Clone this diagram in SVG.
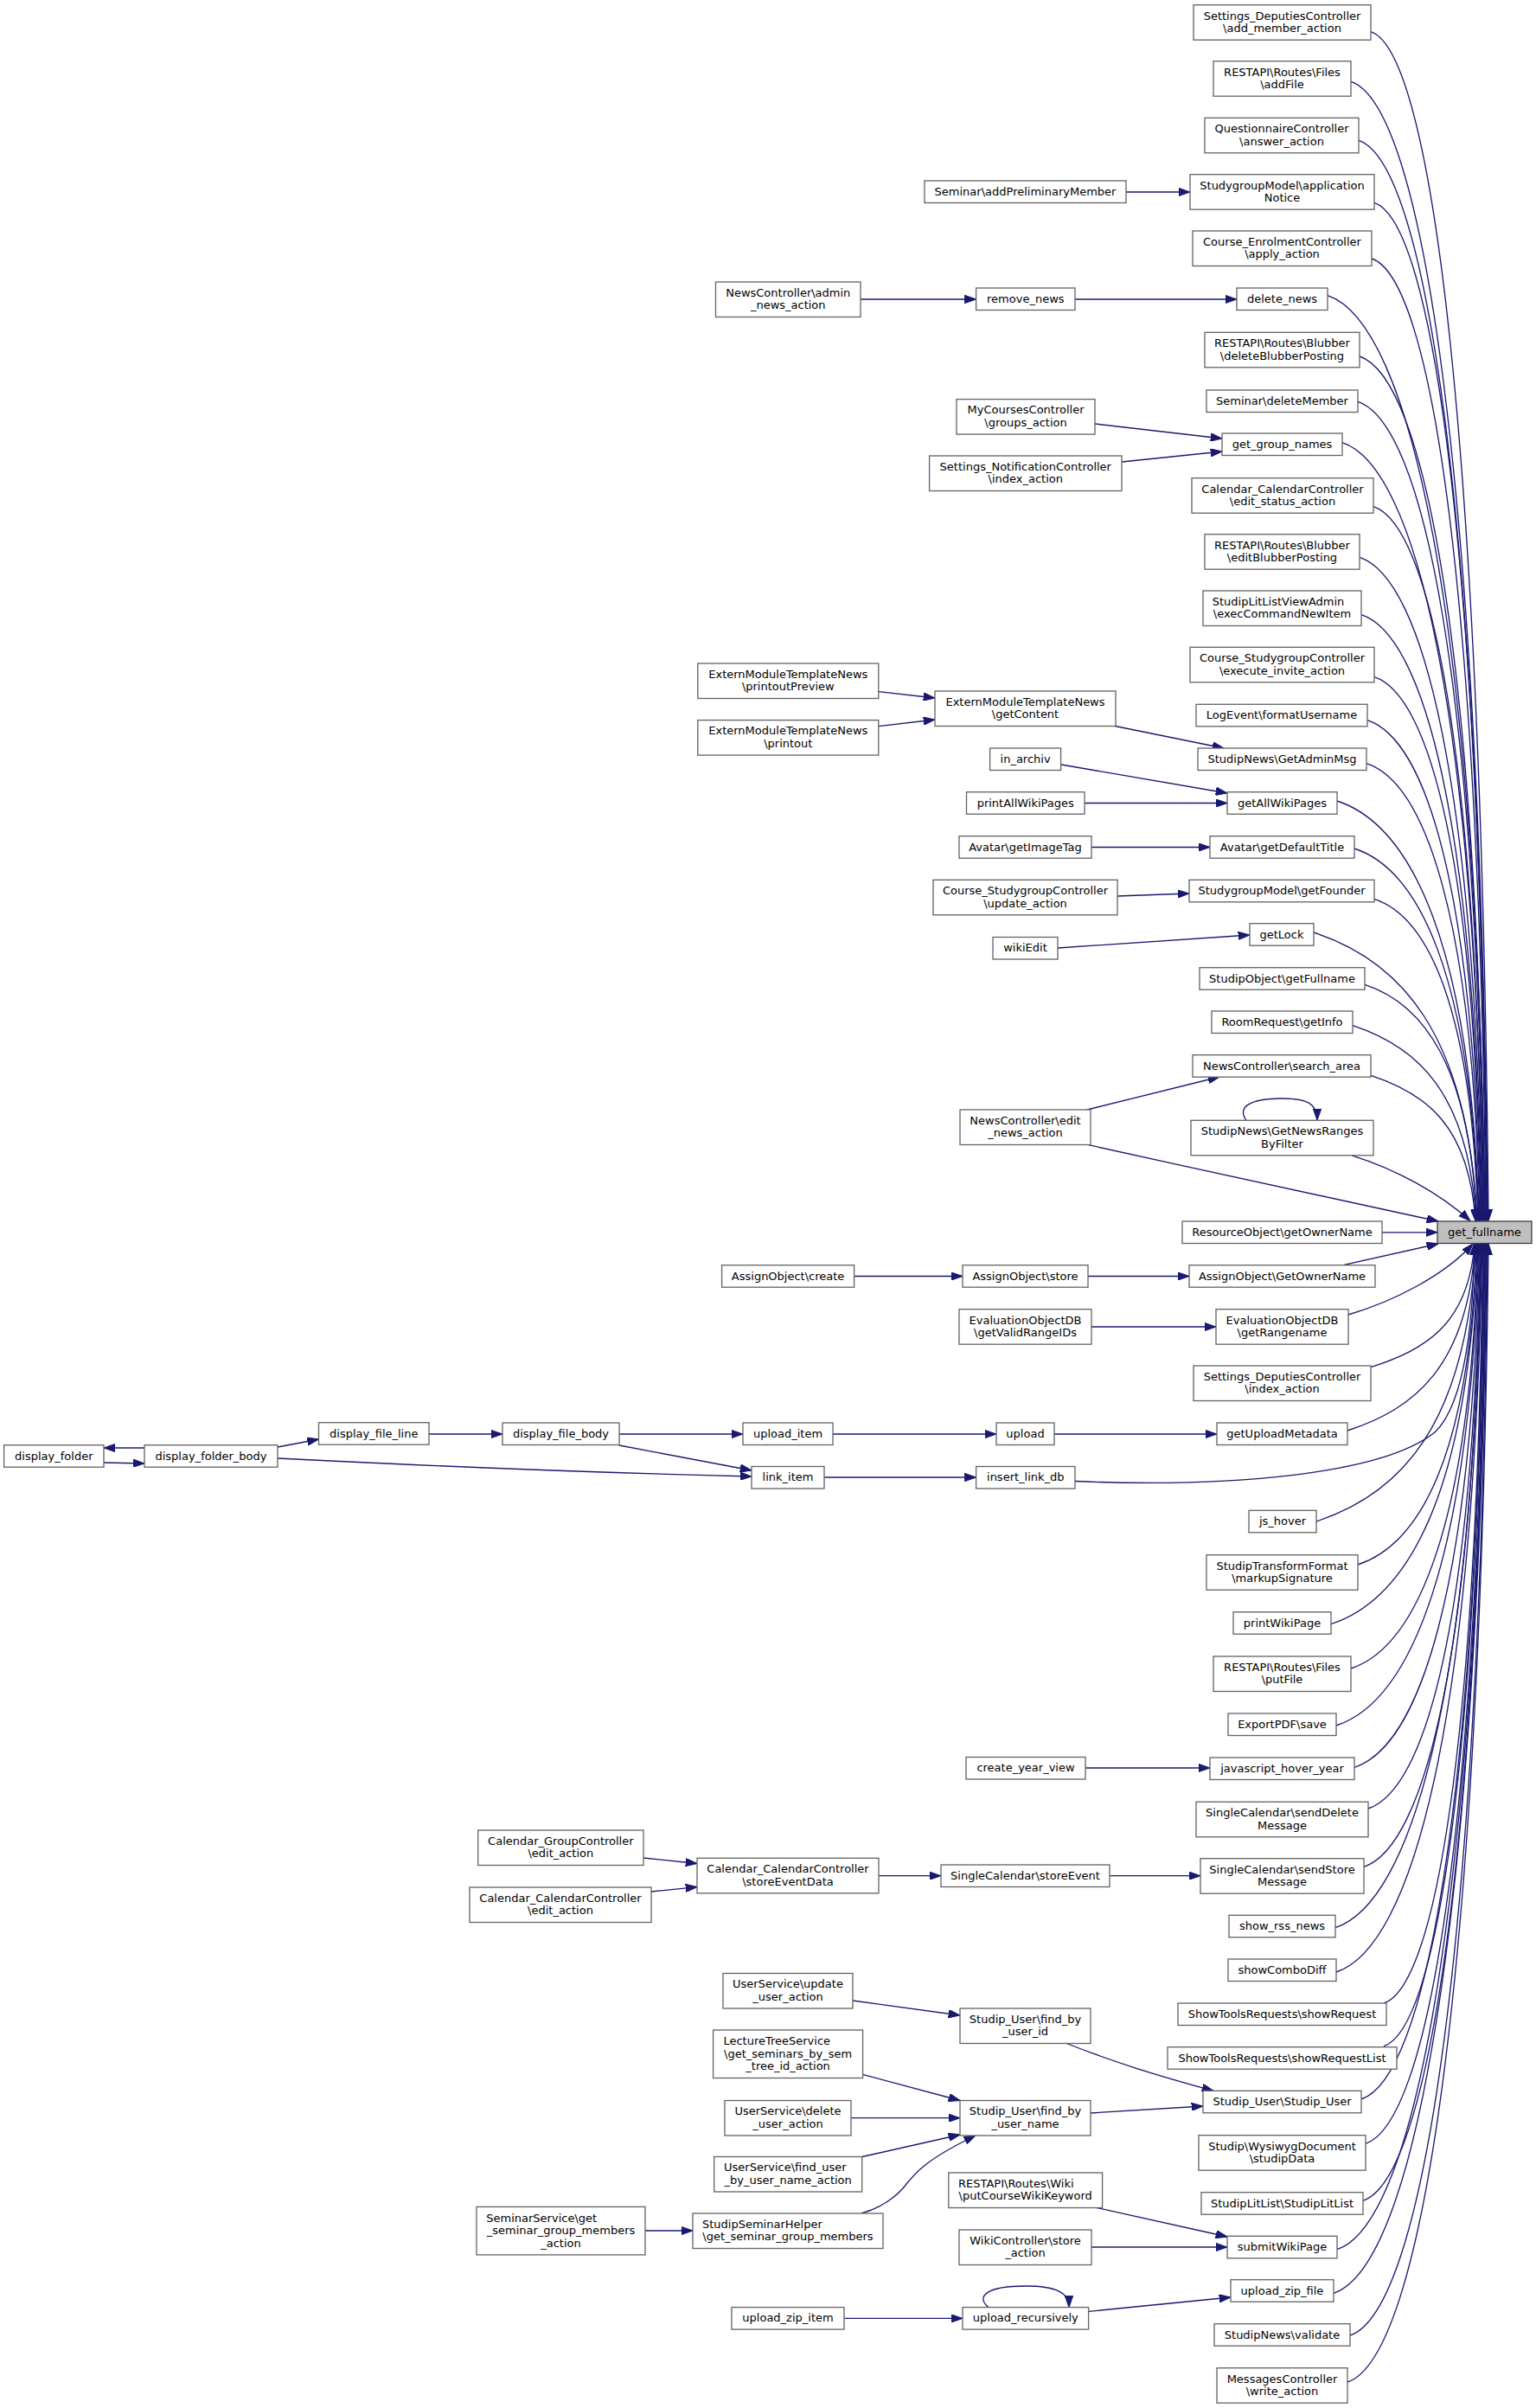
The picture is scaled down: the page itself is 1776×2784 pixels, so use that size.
<svg xmlns="http://www.w3.org/2000/svg" width="1776" height="2784" viewBox="0 0 1776 2784">
<style>
.n rect{fill:#ffffff;stroke:#666666;stroke-width:1.33}
.n.root rect{fill:#bfbfbf;stroke:#404040}
.n text{font-family:"DejaVu Sans","Liberation Sans",sans-serif;font-size:13px;fill:#000000;text-anchor:middle}
.n text.l{text-anchor:start}
#edges path{fill:none;stroke:#191970;stroke-width:1.33;marker-end:url(#ah)}
</style>
<defs>
<marker id="ah" viewBox="0 0 13.3 9.4" refX="13.3" refY="4.7" markerWidth="13.3" markerHeight="9.4" markerUnits="userSpaceOnUse" orient="auto">
<path d="M0,0 L13.3,4.7 L0,9.4 Z" fill="#191970" stroke="#191970" stroke-width="1"/>
</marker>
</defs>
<rect width="1776" height="2784" fill="#ffffff"/>
<g id="edges">
<!-- into get_fullname from above -->
<path d="M1585,36.7 C1655.7,59.8 1712.8,504.1 1721,1411.5"/>
<path d="M1562,94.3 C1644.3,121.2 1710.8,542.1 1720.3,1411.5"/>
<path d="M1571,162.3 C1648.3,187.6 1710.7,587 1719.6,1411.5"/>
<path d="M1589,234.3 C1656.5,256.4 1711.1,634.5 1718.9,1411.5"/>
<path d="M1586,299 C1654.7,321.5 1710.2,677.3 1718.1,1411.5"/>
<path d="M1535,341.7 C1629.8,372.7 1706.5,705.4 1717.4,1411.5"/>
<path d="M1572,412 C1647.2,436.6 1708,751.8 1716.7,1411.5"/>
<path d="M1570,464.3 C1645.9,489.1 1707.2,786.3 1716,1411.5"/>
<path d="M1552,511.7 C1636.9,539.5 1705.5,817.6 1715.3,1411.5"/>
<path d="M1588,585.7 C1653.8,607.2 1707,866.5 1714.6,1411.5"/>
<path d="M1572,644.3 C1645.8,668.4 1705.4,905.1 1713.9,1411.5"/>
<path d="M1574,710.7 C1646.3,734.3 1704.8,949 1713.1,1411.5"/>
<path d="M1589,782.7 C1653.2,803.7 1705,996.5 1712.4,1411.5"/>
<path d="M1581,832.7 C1649,854.9 1703.9,1029.5 1711.7,1411.5"/>
<path d="M1580,882.7 C1648.1,905 1703.1,1062.5 1711,1411.5"/>
<path d="M1546,926 C1631.4,953.9 1700.4,1091.1 1710.3,1411.5"/>
<path d="M1566,981 C1640.7,1005.4 1701,1127.4 1709.6,1411.5"/>
<path d="M1589,1039.3 C1651.3,1059.7 1701.7,1165.8 1708.9,1411.5"/>
<path d="M1519,1078 C1617.3,1110.1 1696.8,1191.4 1708.1,1411.5"/>
<path d="M1578,1138.3 C1645.3,1160.3 1699.6,1231.2 1707.4,1411.5"/>
<path d="M1564,1185.7 C1638.2,1210 1698.1,1262.5 1706.7,1411.5"/>
<path d="M1585,1243.3 C1647.9,1263.9 1698.7,1300.5 1706,1411.5"/>
<path d="M1563,1335.8 C1615,1352 1665,1380 1700,1411.5"/>
<path d="M1258.6,1323.7 C1400,1355 1560,1390 1663,1412"/>
<path d="M1598,1424.8 L1662,1424.8"/>
<path d="M1553,1462.7 L1663,1438"/>
<!-- into get_fullname from below -->
<path d="M1559,1520 C1610,1505 1670,1475 1703,1438"/>
<path d="M1585,1580.7 C1647.4,1560.3 1697.8,1532.2 1705,1438"/>
<path d="M1558,1654 C1634.9,1628.9 1696.9,1580.6 1705.8,1438"/>
<path d="M1243,1712.5 C1420,1720 1600,1705 1660,1655 C1695,1620 1704,1520 1704.5,1438"/>
<path d="M1522,1759 C1618,1727.6 1695.5,1649.9 1706.6,1438"/>
<path d="M1570,1809 C1641.4,1785.6 1699.2,1682.9 1707.4,1438"/>
<path d="M1539,1877.7 C1627,1848.9 1698.1,1728.2 1708.2,1438"/>
<path d="M1562,1929 C1638.4,1904 1700.2,1762.1 1709,1438"/>
<path d="M1545,1995 C1630.7,1967 1699.9,1805.6 1709.8,1438"/>
<path d="M1566,2043.3 C1641.2,2018.7 1701.9,1837.5 1710.6,1438"/>
<path d="M1582,2091 C1649.3,2069 1703.6,1869 1711.4,1438"/>
<path d="M1577,2158.3 C1647.3,2135.3 1704.1,1913.4 1712.2,1438"/>
<path d="M1544,2228.7 C1631.9,2200 1702.9,1959.9 1713,1438"/>
<path d="M1545,2280 C1632.8,2251.3 1703.7,1993.7 1713.8,1438"/>
<path d="M1600,2316 C1659.6,2296.5 1707.7,2017.5 1714.6,1438"/>
<path d="M1600,2365.7 C1660,2346.1 1708.5,2050.3 1715.4,1438"/>
<path d="M1574,2427 C1647.9,2402.8 1707.7,2090.7 1716.2,1438"/>
<path d="M1579,2478.3 C1650.8,2454.8 1708.7,2124.6 1717,1438"/>
<path d="M1576,2544.3 C1649.7,2520.2 1709.3,2168.2 1717.8,1438"/>
<path d="M1546,2600.7 C1635.8,2571.4 1708.2,2205.4 1718.6,1438"/>
<path d="M1542,2651.3 C1634.2,2621.1 1708.8,2238.8 1719.4,1438"/>
<path d="M1561,2700 C1643.8,2672.9 1710.6,2270.9 1720.2,1438"/>
<path d="M1558,2754 C1642.8,2726.3 1711.2,2306.6 1721,1438"/>
<!-- other edges -->
<path d="M1302,222 L1376,222"/>
<path d="M995,346 L1128.6,346"/>
<path d="M1243,346 L1430,346"/>
<path d="M1266,490 L1413,507"/>
<path d="M1297,534 L1413,522"/>
<path d="M1015.7,799.6 L1081,807"/>
<path d="M1015.7,839.7 L1081,832"/>
<path d="M1287,839 L1415,865"/>
<path d="M1227,884 L1419,917"/>
<path d="M1254,928.5 L1419,928.5"/>
<path d="M1262,979.5 L1399,979.5"/>
<path d="M1292,1036 L1375,1033"/>
<path d="M1223,1096 L1445,1081"/>
<path d="M1257,1283 L1410,1245"/>
<path d="M1441,1295.3 C1430,1280 1445,1270 1482,1270 C1512,1270 1523,1276 1523,1295.3"/>
<path d="M987.5,1475.5 L1113,1475.5"/>
<path d="M1258,1475.5 L1375,1475.5"/>
<path d="M1262,1534 L1406,1534"/>
<path d="M716,1658 L859,1658"/>
<path d="M963,1658 L1152,1658"/>
<path d="M1219,1658 L1407,1658"/>
<path d="M716,1671 L869,1700"/>
<path d="M321,1686 C500,1695 700,1703 869,1707"/>
<path d="M953,1708 L1128.6,1708"/>
<path d="M321,1673 L368.5,1664"/>
<path d="M496,1658 L581,1658"/>
<path d="M167,1674 L120,1674"/>
<path d="M120,1691 L167,1692"/>
<path d="M1255,2044 L1399,2044"/>
<path d="M744,2148 L806,2154.5"/>
<path d="M753,2187 L806,2181.6"/>
<path d="M1016,2168.7 L1088,2168.7"/>
<path d="M1283,2168.7 L1388,2168.7"/>
<path d="M986,2313 L1110,2330"/>
<path d="M1232,2362 C1290,2385 1340,2400 1403,2417.3"/>
<path d="M1261,2443 L1391,2435"/>
<path d="M997.5,2398.4 L1110,2428.5"/>
<path d="M984,2448.7 L1110,2448.7"/>
<path d="M997,2493.5 L1110,2468"/>
<path d="M996,2559 C1020,2552 1035,2540 1044,2530 C1058,2512 1070,2497 1128,2469"/>
<path d="M746,2579 L801,2579"/>
<path d="M1266,2552 L1419,2586"/>
<path d="M1262,2598 L1419,2598"/>
<path d="M976,2680.4 L1113,2680.4"/>
<path d="M1258.6,2672.4 L1423,2656"/>
<path d="M1143,2667.6 C1128,2655 1140,2643 1186,2643 C1220,2643 1236,2650 1236,2667.6"/>
</g>
<g id="node-get_fullname" class="n root"><rect x="1662" y="1412" width="109" height="25.5"/><text x="1716.5" y="1428.8">get_fullname</text></g>
<g id="node-add_member" class="n"><rect x="1380" y="5.7" width="205" height="40.5"/><text x="1482.5" y="22.5">Settings_DeputiesController</text><text x="1482.5" y="37">\add_member_action</text></g>
<g id="node-addFile" class="n"><rect x="1403" y="70.7" width="159" height="40.5"/><text x="1482.5" y="87.5">RESTAPI\Routes\Files</text><text x="1482.5" y="102">\addFile</text></g>
<g id="node-answer" class="n"><rect x="1393" y="136.3" width="178" height="40.5"/><text x="1482" y="153.1">QuestionnaireController</text><text x="1482" y="167.6">\answer_action</text></g>
<g id="node-appNotice" class="n"><rect x="1376" y="201.7" width="213" height="40.5"/><text x="1482.5" y="218.5">StudygroupModel\application</text><text x="1482.5" y="233">Notice</text></g>
<g id="node-apply" class="n"><rect x="1379" y="267" width="207" height="40.5"/><text x="1482.5" y="283.8">Course_EnrolmentController</text><text x="1482.5" y="298.3">\apply_action</text></g>
<g id="node-delete_news" class="n"><rect x="1430" y="333" width="105" height="25.5"/><text x="1482.5" y="349.8">delete_news</text></g>
<g id="node-deleteBlubber" class="n"><rect x="1393" y="384.3" width="179" height="40.5"/><text x="1482.5" y="401.1">RESTAPI\Routes\Blubber</text><text x="1482.5" y="415.6">\deleteBlubberPosting</text></g>
<g id="node-deleteMember" class="n"><rect x="1395" y="451" width="175" height="25.5"/><text x="1482.5" y="467.8">Seminar\deleteMember</text></g>
<g id="node-get_group_names" class="n"><rect x="1413" y="501" width="139" height="25.5"/><text x="1482.5" y="517.8">get_group_names</text></g>
<g id="node-edit_status" class="n"><rect x="1378" y="552.7" width="210" height="40.5"/><text x="1483" y="569.5">Calendar_CalendarController</text><text x="1483" y="584">\edit_status_action</text></g>
<g id="node-editBlubber" class="n"><rect x="1393" y="617.7" width="179" height="40.5"/><text x="1482.5" y="634.5">RESTAPI\Routes\Blubber</text><text x="1482.5" y="649">\editBlubberPosting</text></g>
<g id="node-execCmd" class="n"><rect x="1391" y="683" width="183" height="40.5"/><text class="l" x="1401.7" y="699.8">StudipLitListViewAdmin</text><text x="1482.5" y="714.3">\execCommandNewItem</text></g>
<g id="node-execInvite" class="n"><rect x="1376" y="748.3" width="213" height="40.5"/><text x="1482.5" y="765.1">Course_StudygroupController</text><text x="1482.5" y="779.6">\execute_invite_action</text></g>
<g id="node-formatUsername" class="n"><rect x="1383" y="814.3" width="198" height="25.5"/><text x="1482" y="831.1">LogEvent\formatUsername</text></g>
<g id="node-getAdminMsg" class="n"><rect x="1385" y="865" width="195" height="25.5"/><text x="1482.5" y="881.8">StudipNews\GetAdminMsg</text></g>
<g id="node-getAllWikiPages" class="n"><rect x="1419" y="915.7" width="127" height="25.5"/><text x="1482.5" y="932.5">getAllWikiPages</text></g>
<g id="node-getDefaultTitle" class="n"><rect x="1399" y="966.7" width="167" height="25.5"/><text x="1482.5" y="983.5">Avatar\getDefaultTitle</text></g>
<g id="node-getFounder" class="n"><rect x="1375" y="1017.3" width="214" height="25.5"/><text x="1482" y="1034.1">StudygroupModel\getFounder</text></g>
<g id="node-getLock" class="n"><rect x="1445" y="1067.7" width="74" height="25.5"/><text x="1482" y="1084.5">getLock</text></g>
<g id="node-getFullname" class="n"><rect x="1387" y="1118.7" width="191" height="25.5"/><text x="1482.5" y="1135.5">StudipObject\getFullname</text></g>
<g id="node-getInfo" class="n"><rect x="1401" y="1169" width="163" height="25.5"/><text x="1482.5" y="1185.8">RoomRequest\getInfo</text></g>
<g id="node-search_area" class="n"><rect x="1379" y="1219.7" width="206" height="25.5"/><text x="1482" y="1236.5">NewsController\search_area</text></g>
<g id="node-getNewsRanges" class="n"><rect x="1377" y="1295.3" width="211" height="40.5"/><text x="1482.5" y="1312.1">StudipNews\GetNewsRanges</text><text x="1482.5" y="1326.6">ByFilter</text></g>
<g id="node-resourceOwner" class="n"><rect x="1367" y="1412" width="231" height="25.5"/><text x="1482.5" y="1428.8">ResourceObject\getOwnerName</text></g>
<g id="node-assignOwner" class="n"><rect x="1375" y="1462.7" width="215" height="25.5"/><text x="1482.5" y="1479.5">AssignObject\GetOwnerName</text></g>
<g id="node-getRangename" class="n"><rect x="1406" y="1513.7" width="153" height="40.5"/><text x="1482.5" y="1530.5">EvaluationObjectDB</text><text x="1482.5" y="1545">\getRangename</text></g>
<g id="node-indexAction" class="n"><rect x="1380" y="1579" width="205" height="40.5"/><text x="1482.5" y="1595.8">Settings_DeputiesController</text><text x="1482.5" y="1610.3">\index_action</text></g>
<g id="node-getUploadMetadata" class="n"><rect x="1407" y="1645" width="151" height="25.5"/><text x="1482.5" y="1661.8">getUploadMetadata</text></g>
<g id="node-js_hover" class="n"><rect x="1444" y="1746.3" width="78" height="25.5"/><text x="1483" y="1763.1">js_hover</text></g>
<g id="node-markupSig" class="n"><rect x="1395" y="1797.7" width="175" height="40.5"/><text x="1482.5" y="1814.5">StudipTransformFormat</text><text x="1482.5" y="1829">\markupSignature</text></g>
<g id="node-printWikiPage" class="n"><rect x="1426" y="1863.7" width="113" height="25.5"/><text x="1482.5" y="1880.5">printWikiPage</text></g>
<g id="node-putFile" class="n"><rect x="1403" y="1915" width="159" height="40.5"/><text x="1482.5" y="1931.8">RESTAPI\Routes\Files</text><text x="1482.5" y="1946.3">\putFile</text></g>
<g id="node-exportPDF" class="n"><rect x="1420" y="1981" width="125" height="25.5"/><text x="1482.5" y="1997.8">ExportPDF\save</text></g>
<g id="node-jsHoverYear" class="n"><rect x="1399" y="2032" width="167" height="25.5"/><text x="1482.5" y="2048.8">javascript_hover_year</text></g>
<g id="node-sendDelete" class="n"><rect x="1383" y="2083.3" width="199" height="40.5"/><text x="1482.5" y="2100.1">SingleCalendar\sendDelete</text><text x="1482.5" y="2114.6">Message</text></g>
<g id="node-sendStore" class="n"><rect x="1388" y="2148.7" width="189" height="40.5"/><text x="1482.5" y="2165.5">SingleCalendar\sendStore</text><text x="1482.5" y="2180">Message</text></g>
<g id="node-show_rss" class="n"><rect x="1421" y="2214.3" width="123" height="25.5"/><text x="1482.5" y="2231.1">show_rss_news</text></g>
<g id="node-showComboDiff" class="n"><rect x="1420" y="2265" width="125" height="25.5"/><text x="1482.5" y="2281.8">showComboDiff</text></g>
<g id="node-showRequest" class="n"><rect x="1362" y="2316" width="241" height="25.5"/><text x="1482.5" y="2332.8">ShowToolsRequests\showRequest</text></g>
<g id="node-showRequestList" class="n"><rect x="1350" y="2366.7" width="265" height="25.5"/><text x="1482.5" y="2383.5">ShowToolsRequests\showRequestList</text></g>
<g id="node-studipUser" class="n"><rect x="1391" y="2417.3" width="183" height="25.5"/><text x="1482.5" y="2434.1">Studip_User\Studip_User</text></g>
<g id="node-studipData" class="n"><rect x="1386" y="2468.7" width="193" height="40.5"/><text x="1482.5" y="2485.5">Studip\WysiwygDocument</text><text x="1482.5" y="2500">\studipData</text></g>
<g id="node-litList" class="n"><rect x="1389" y="2534.7" width="187" height="25.5"/><text x="1482.5" y="2551.5">StudipLitList\StudipLitList</text></g>
<g id="node-submitWikiPage" class="n"><rect x="1419" y="2585.3" width="127" height="25.5"/><text x="1482.5" y="2602.1">submitWikiPage</text></g>
<g id="node-uploadZipFile" class="n"><rect x="1423" y="2635.7" width="119" height="25.5"/><text x="1482.5" y="2652.5">upload_zip_file</text></g>
<g id="node-validate" class="n"><rect x="1404" y="2686.7" width="157" height="25.5"/><text x="1482.5" y="2703.5">StudipNews\validate</text></g>
<g id="node-writeAction" class="n"><rect x="1407" y="2737.7" width="151" height="40.5"/><text x="1482.5" y="2754.5">MessagesController</text><text x="1482.5" y="2769">\write_action</text></g>
<g id="node-addPrelim" class="n"><rect x="1069" y="209" width="233" height="25.5"/><text x="1185.5" y="225.8">Seminar\addPreliminaryMember</text></g>
<g id="node-adminNews" class="n"><rect x="827.5" y="326" width="167.5" height="40.5"/><text x="911.25" y="342.8">NewsController\admin</text><text x="911.25" y="357.3">_news_action</text></g>
<g id="node-remove_news" class="n"><rect x="1128.6" y="333" width="114.4" height="25.5"/><text x="1185.8" y="349.8">remove_news</text></g>
<g id="node-myCourses" class="n"><rect x="1106" y="461.6" width="160" height="40.5"/><text x="1186" y="478.4">MyCoursesController</text><text x="1186" y="492.9">\groups_action</text></g>
<g id="node-settingsNotif" class="n"><rect x="1074.6" y="527" width="222.4" height="40.5"/><text x="1185.8" y="543.8">Settings_NotificationController</text><text x="1185.8" y="558.3">\index_action</text></g>
<g id="node-printoutPreview" class="n"><rect x="806.8" y="767" width="209" height="40.5"/><text x="911.3" y="783.8">ExternModuleTemplateNews</text><text x="911.3" y="798.3">\printoutPreview</text></g>
<g id="node-printout" class="n"><rect x="806.8" y="832.6" width="209" height="40.5"/><text x="911.3" y="849.4">ExternModuleTemplateNews</text><text x="911.3" y="863.9">\printout</text></g>
<g id="node-getContent" class="n"><rect x="1081" y="799" width="209" height="40.5"/><text x="1185.5" y="815.8">ExternModuleTemplateNews</text><text x="1185.5" y="830.3">\getContent</text></g>
<g id="node-in_archiv" class="n"><rect x="1144.6" y="865" width="82" height="25.5"/><text x="1185.6" y="881.8">in_archiv</text></g>
<g id="node-printAllWiki" class="n"><rect x="1117.5" y="915.7" width="136.5" height="25.5"/><text x="1185.75" y="932.5">printAllWikiPages</text></g>
<g id="node-getImageTag" class="n"><rect x="1109" y="966.7" width="153" height="25.5"/><text x="1185.5" y="983.5">Avatar\getImageTag</text></g>
<g id="node-updateAction" class="n"><rect x="1079" y="1017.3" width="213" height="40.5"/><text x="1185.5" y="1034.1">Course_StudygroupController</text><text x="1185.5" y="1048.6">\update_action</text></g>
<g id="node-wikiEdit" class="n"><rect x="1148" y="1083.5" width="75" height="25.5"/><text x="1185.5" y="1100.3">wikiEdit</text></g>
<g id="node-editNews" class="n"><rect x="1110" y="1283" width="151" height="40.5"/><text x="1185.5" y="1299.8">NewsController\edit</text><text x="1185.5" y="1314.3">_news_action</text></g>
<g id="node-assignCreate" class="n"><rect x="834.6" y="1462.7" width="153" height="25.5"/><text x="911.1" y="1479.5">AssignObject\create</text></g>
<g id="node-assignStore" class="n"><rect x="1113" y="1462.7" width="145" height="25.5"/><text x="1185.5" y="1479.5">AssignObject\store</text></g>
<g id="node-getValidRangeIDs" class="n"><rect x="1109" y="1513.7" width="153" height="40.5"/><text x="1185.5" y="1530.5">EvaluationObjectDB</text><text x="1185.5" y="1545">\getValidRangeIDs</text></g>
<g id="node-upload_item" class="n"><rect x="859" y="1645" width="104" height="25.5"/><text x="911" y="1661.8">upload_item</text></g>
<g id="node-upload" class="n"><rect x="1152" y="1645" width="67" height="25.5"/><text x="1185.5" y="1661.8">upload</text></g>
<g id="node-link_item" class="n"><rect x="869" y="1695.5" width="84" height="25.5"/><text x="911" y="1712.3">link_item</text></g>
<g id="node-insert_link_db" class="n"><rect x="1128.6" y="1695.5" width="114.4" height="25.5"/><text x="1185.8" y="1712.3">insert_link_db</text></g>
<g id="node-create_year_view" class="n"><rect x="1117" y="2031.5" width="138" height="25.5"/><text x="1186" y="2048.3">create_year_view</text></g>
<g id="node-storeEventData" class="n"><rect x="806" y="2148.3" width="210" height="40.5"/><text x="911" y="2165.1">Calendar_CalendarController</text><text x="911" y="2179.6">\storeEventData</text></g>
<g id="node-storeEvent" class="n"><rect x="1088" y="2156" width="195" height="25.5"/><text x="1185.5" y="2172.8">SingleCalendar\storeEvent</text></g>
<g id="node-updateUser" class="n"><rect x="836" y="2281.5" width="150" height="40.5"/><text x="911" y="2298.3">UserService\update</text><text x="911" y="2312.8">_user_action</text></g>
<g id="node-findById" class="n"><rect x="1110" y="2322" width="151" height="40.5"/><text x="1185.5" y="2338.8">Studip_User\find_by</text><text x="1185.5" y="2353.3">_user_id</text></g>
<g id="node-lectureTree" class="n"><rect x="824.6" y="2347" width="173" height="55.5"/><text class="l" x="836.4" y="2364.1">LectureTreeService</text><text x="911.1" y="2378.8">\get_seminars_by_sem</text><text x="911.1" y="2393.4">_tree_id_action</text></g>
<g id="node-deleteUser" class="n"><rect x="838" y="2428.5" width="146" height="40.5"/><text x="911" y="2445.3">UserService\delete</text><text x="911" y="2459.8">_user_action</text></g>
<g id="node-findByName" class="n"><rect x="1110" y="2428.5" width="151" height="40.5"/><text x="1185.5" y="2445.3">Studip_User\find_by</text><text x="1185.5" y="2459.8">_user_name</text></g>
<g id="node-findUser" class="n"><rect x="825.7" y="2493.5" width="171" height="40.5"/><text class="l" x="837" y="2510.3">UserService\find_user</text><text x="911.2" y="2524.8">_by_user_name_action</text></g>
<g id="node-seminarHelper" class="n"><rect x="801" y="2559" width="220" height="40.5"/><text class="l" x="812" y="2575.8">StudipSeminarHelper</text><text x="911" y="2590.3">\get_seminar_group_members</text></g>
<g id="node-putCourseWiki" class="n"><rect x="1096.8" y="2512" width="177.8" height="40.5"/><text class="l" x="1108" y="2528.8">RESTAPI\Routes\Wiki</text><text x="1185.7" y="2543.3">\putCourseWikiKeyword</text></g>
<g id="node-wikiStore" class="n"><rect x="1109" y="2578" width="153" height="40.5"/><text x="1185.5" y="2594.8">WikiController\store</text><text x="1185.5" y="2609.3">_action</text></g>
<g id="node-upload_zip_item" class="n"><rect x="846" y="2667.6" width="130" height="25.5"/><text x="911" y="2684.4">upload_zip_item</text></g>
<g id="node-upload_recursively" class="n"><rect x="1113" y="2667.6" width="145.6" height="25.5"/><text x="1185.8" y="2684.4">upload_recursively</text></g>
<g id="node-display_folder" class="n"><rect x="4.6" y="1670.7" width="115.4" height="25.5"/><text x="62.3" y="1687.5">display_folder</text></g>
<g id="node-display_folder_body" class="n"><rect x="167" y="1670.7" width="154" height="25.5"/><text x="244" y="1687.5">display_folder_body</text></g>
<g id="node-display_file_line" class="n"><rect x="368.5" y="1644.7" width="127.5" height="25.5"/><text x="432.25" y="1661.5">display_file_line</text></g>
<g id="node-display_file_body" class="n"><rect x="581" y="1645" width="135" height="25.5"/><text x="648.5" y="1661.8">display_file_body</text></g>
<g id="node-calGroupEdit" class="n"><rect x="552.7" y="2116" width="191.3" height="40.5"/><text x="648.35" y="2132.8">Calendar_GroupController</text><text x="648.35" y="2147.3">\edit_action</text></g>
<g id="node-calCalEdit" class="n"><rect x="543" y="2182" width="210" height="40.5"/><text x="648" y="2198.8">Calendar_CalendarController</text><text x="648" y="2213.3">\edit_action</text></g>
<g id="node-seminarService" class="n"><rect x="551" y="2551.4" width="195" height="55.5"/><text class="l" x="562.3" y="2568.6">SeminarService\get</text><text x="648.5" y="2583.2">_seminar_group_members</text><text x="648.5" y="2597.8">_action</text></g>
</svg>
